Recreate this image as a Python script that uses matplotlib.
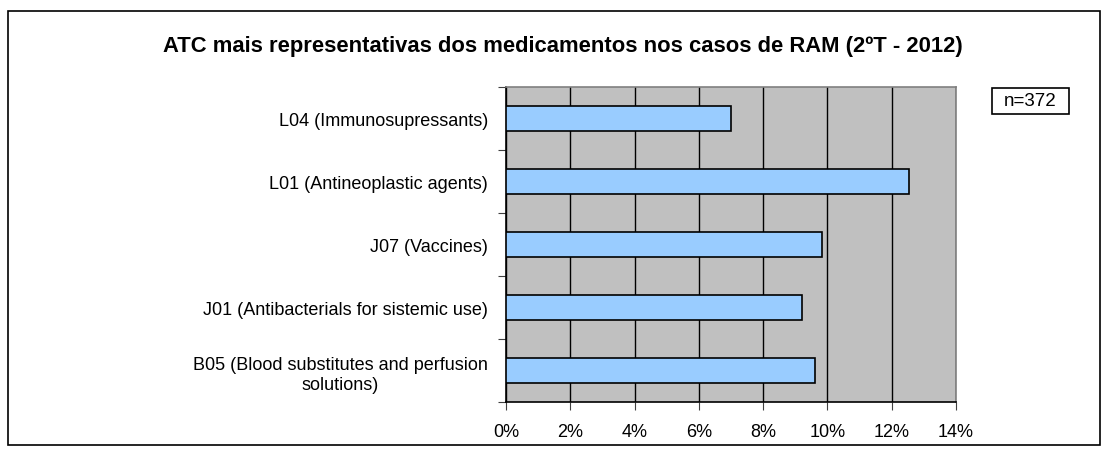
import matplotlib.pyplot as plt
from matplotlib.patches import Rectangle
from matplotlib.ticker import FixedLocator, NullFormatter, FixedFormatter

plt.rcParams['font.family'] = ['Liberation Sans', 'DejaVu Sans']

categories = ['L04 (Immunosupressants)',
              'L01 (Antineoplastic agents)',
              'J07 (Vaccines)',
              'J01 (Antibacterials for sistemic use)',
              'B05 (Blood substitutes and perfusion\nsolutions)']
values = [7.0, 12.55, 9.83, 9.2, 9.6]
xticks = [0, 2, 4, 6, 8, 10, 12, 14]

fig = plt.figure(figsize=(11.1, 4.56), dpi=100)
ax = fig.add_axes([506/1110, 1 - 403/456, 450/1110, 315/456])
ax.set_facecolor('#C0C0C0')

ypos = list(range(len(categories)))
ax.barh(ypos, values, height=0.39, color='#99CCFF', edgecolor='black', linewidth=1.2, zorder=3)
ax.set_ylim(len(categories) - 0.5, -0.5)
ax.set_xlim(0, 14)

ax.set_xticks(xticks)
ax.set_xticklabels([f'{t}%' for t in xticks], fontsize=13)
ax.xaxis.grid(True, color='black', linewidth=1, zorder=1)

ax.yaxis.set_major_locator(FixedLocator([i - 0.5 for i in range(len(categories) + 1)]))
ax.yaxis.set_major_formatter(NullFormatter())
ax.yaxis.set_minor_locator(FixedLocator(ypos))
ax.yaxis.set_minor_formatter(FixedFormatter(categories))
ax.tick_params(axis='y', which='minor', length=0, pad=13, labelsize=13)
ax.tick_params(axis='y', which='major', length=6, color='#404040')
ax.tick_params(axis='x', length=6, color='#404040', pad=9)
for lbl in ax.get_yticklabels(minor=True):
    lbl.set_multialignment('center')
    lbl.set_linespacing(1.3)

for s in ax.spines.values():
    s.set_color('#808080')
    s.set_linewidth(1.2)
ax.spines['left'].set_color('black')
ax.spines['bottom'].set_color('black')

fig.text(563/1110, 1 - 52/456, 'ATC mais representativas dos medicamentos nos casos de RAM (2ºT - 2012)',
         ha='center', va='baseline', fontsize=15.8, fontweight='bold')

fig.patches.append(Rectangle((992/1110, 1 - 115/456), 77/1110, 26/456, transform=fig.transFigure,
                             facecolor='white', edgecolor='black', linewidth=1.2))
fig.text(1030.5/1110, 1 - 102/456, 'n=372', ha='center', va='center', fontsize=13.5)

fig.patches.append(Rectangle((8/1110, 10/456), 1092/1110, 434/456, transform=fig.transFigure,
                             fill=False, edgecolor='black', linewidth=1.2))

fig.savefig('out.png', dpi=100)
